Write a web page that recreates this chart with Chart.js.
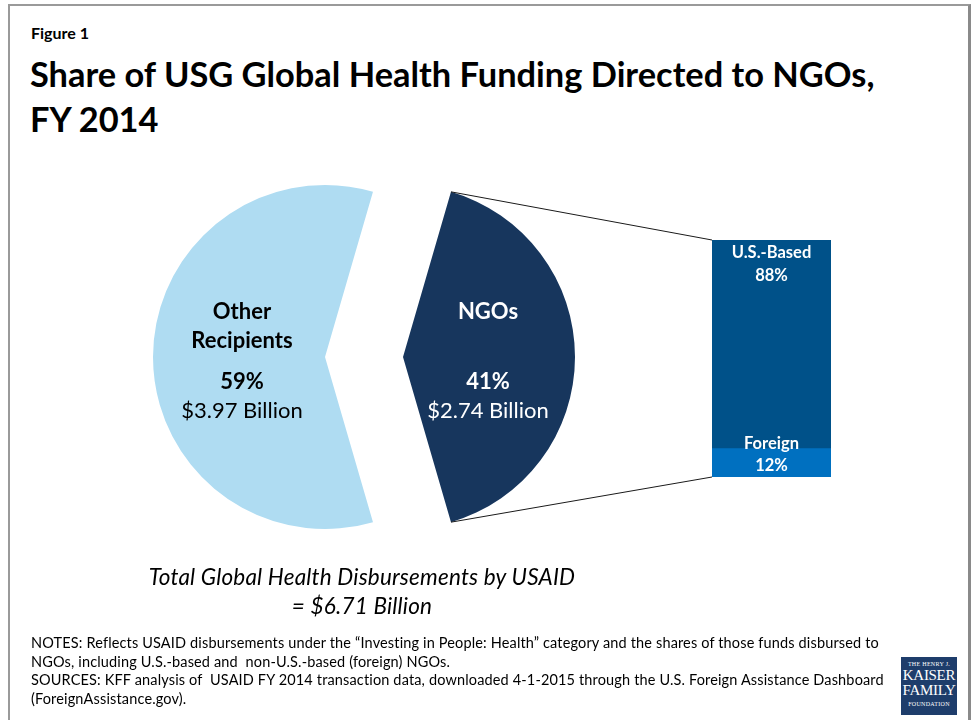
<!DOCTYPE html>
<html>
<head>
<meta charset="utf-8">
<script src="https://cdn.jsdelivr.net/npm/chart.js@4.4.1/dist/chart.umd.min.js"></script>
<style>
  html, body { margin:0; padding:0; background:#fff; }
  body { width:972px; height:720px; position:relative; overflow:hidden; font-family: Lato, "Open Sans", sans-serif; color:#000; }
  .frame { position:absolute; left:8px; top:4px; width:958px; height:760px; border-left:2px solid #9a9a9a; border-top:2px solid #9a9a9a; border-right:3px solid #8a8a8a; }
  canvas { position:absolute; left:0; top:0; }
  .fig { position:absolute; left:31px; top:24px; font-size:16px; line-height:18px; font-weight:700; }
  .title { position:absolute; left:30px; top:51px; font-size:34.4px; line-height:45px; font-weight:700; white-space:nowrap; }
  .total { position:absolute; left:62px; width:600px; top:562px; text-align:center; font-style:italic; font-size:22.5px; line-height:29px; letter-spacing:0.2px; }
  .notes { position:absolute; left:31px; top:634px; font-size:14.5px; line-height:18.5px; letter-spacing:0.15px; white-space:nowrap; }
  .logo { position:absolute; left:901px; top:657px; width:56px; height:58px; background:#1e3d6b; color:#fff; font-family:"Liberation Serif", "DejaVu Serif", serif; text-align:center; }
  .logo .s { font-size:6px; letter-spacing:0.3px; line-height:8px; }
  .logo .b { font-size:15px; line-height:15px; letter-spacing:-0.3px; }
</style>
</head>
<body>
<div class="frame"></div>
<div class="fig">Figure 1</div>
<div class="title">Share of USG Global Health Funding Directed to NGOs,<br>FY 2014</div>
<canvas id="pieA" width="972" height="720"></canvas>
<canvas id="pieB" width="972" height="720"></canvas>
<canvas id="bar" width="972" height="720"></canvas>
<div class="total">Total Global Health Disbursements by USAID<br>= $6.71 Billion</div>
<div class="notes">NOTES: Reflects USAID disbursements under the “Investing in People: Health” category and the shares of those funds disbursed to<br>NGOs, including U.S.-based and&nbsp; non-U.S.-based (foreign) NGOs.<br>SOURCES: KFF analysis of&nbsp; USAID FY 2014 transaction data, downloaded 4-1-2015 through the U.S. Foreign Assistance Dashboard<br>(ForeignAssistance.gov).</div>
<div class="logo"><div class="s" style="margin-top:3px">THE HENRY J.</div><div class="b">KAISER</div><div class="b">FAMILY</div><div class="s" style="margin-top:2px">FOUNDATION</div></div>
<script>
// ---- data ----
const categories = ['Other Recipients', 'NGOs'];
const nameLines = [['Other', 'Recipients'], ['NGOs']];
const shares = [59, 41];
const amounts = ['$3.97 Billion', '$2.74 Billion'];
const ngoTypes = ['Foreign', 'U.S.-Based'];
const ngoShares = [12, 88];

// ---- styles ----
const lightBlue = '#afdcf2';
const navy = '#17365d';
const usBlue = '#005189';
const foreignBlue = '#0070c0';
const FONT = 'Lato, "Open Sans", sans-serif';
Chart.defaults.font.family = FONT;

const rotation = 270 - shares[0] * 3.6 / 2;

const pieLabels = {
  id: 'pieLabels',
  afterDatasetsDraw(chart, args, opts) {
    const ctx = chart.ctx;
    const i = opts.index;
    const arc = chart.getDatasetMeta(0).data[i];
    const p = arc.tooltipPosition();
    ctx.save();
    ctx.fillStyle = opts.color;
    ctx.textAlign = 'center';
    ctx.textBaseline = 'middle';
    ctx.font = 'bold 22px ' + FONT;
    nameLines[i].forEach((t, k) => ctx.fillText(t, p.x + opts.dx, p.y - 45 + k * 29));
    ctx.fillText(shares[i] + '%', p.x + opts.dx, p.y + 25);
    ctx.font = '22px ' + FONT;
    ctx.fillText(amounts[i], p.x + opts.dx, p.y + 54);
    ctx.restore();
  }
};

function makePie(id, visibleIndex, padRight, color, dx) {
  const colors = shares.map((_, k) => k === visibleIndex ? (k === 0 ? lightBlue : navy) : 'rgba(0,0,0,0)');
  return new Chart(document.getElementById(id), {
    type: 'pie',
    data: { labels: categories, datasets: [{ data: shares, backgroundColor: colors, borderWidth: 0, radius: 172 }] },
    options: {
      responsive: false, animation: false, rotation: rotation,
      layout: { padding: { left: 0, right: padRight, top: 0, bottom: 6 } },
      events: [],
      plugins: { legend: { display: false }, tooltip: { enabled: false }, pieLabels: { index: visibleIndex, color: color, dx: dx } }
    },
    plugins: [pieLabels]
  });
}

const pieA = makePie('pieA', 0, 322, '#000', 3);
const pieB = makePie('pieB', 1, 166, '#fff', -1);

const barDecor = {
  id: 'barDecor',
  beforeDatasetsDraw(chart) {
    const ctx = chart.ctx;
    const arc = pieB.getDatasetMeta(0).data[1];
    const r = arc.outerRadius;
    const top = chart.getDatasetMeta(1).data[0];
    const bottom = chart.getDatasetMeta(0).data[0];
    const left = top.x - top.width / 2;
    ctx.save();
    ctx.strokeStyle = '#1a1a1a';
    ctx.lineWidth = 1;
    ctx.beginPath();
    ctx.moveTo(arc.x + r * Math.cos(arc.startAngle), arc.y + r * Math.sin(arc.startAngle));
    ctx.lineTo(left, top.y);
    ctx.moveTo(arc.x + r * Math.cos(arc.endAngle), arc.y + r * Math.sin(arc.endAngle));
    ctx.lineTo(left, bottom.base);
    ctx.stroke();
    ctx.restore();
  },
  afterDatasetsDraw(chart) {
    const ctx = chart.ctx;
    ctx.save();
    ctx.fillStyle = '#fff';
    ctx.textAlign = 'center';
    ctx.textBaseline = 'middle';
    ctx.font = 'bold 16.5px ' + FONT;
    const offs = [[-5, 17], [13, 36]];
    chart.data.datasets.forEach((ds, i) => {
      const el = chart.getDatasetMeta(i).data[0];
      ctx.fillText(ngoTypes[i], el.x, el.y + offs[i][0]);
      ctx.fillText(ngoShares[i] + '%', el.x, el.y + offs[i][1]);
    });
    ctx.restore();
  }
};

new Chart(document.getElementById('bar'), {
  type: 'bar',
  data: {
    labels: ['NGOs'],
    datasets: [
      { label: ngoTypes[0], data: [ngoShares[0]], backgroundColor: foreignBlue, borderWidth: 0 },
      { label: ngoTypes[1], data: [ngoShares[1]], backgroundColor: usBlue, borderWidth: 0 }
    ]
  },
  options: {
    responsive: false, animation: false, events: [],
    barPercentage: 1, categoryPercentage: 1,
    layout: { padding: { left: 712, right: 141, top: 240, bottom: 243 } },
    scales: {
      x: { stacked: true, display: false },
      y: { stacked: true, display: false, min: 0, max: 100 }
    },
    plugins: { legend: { display: false }, tooltip: { enabled: false } }
  },
  plugins: [barDecor]
});
</script>
</body>
</html>
